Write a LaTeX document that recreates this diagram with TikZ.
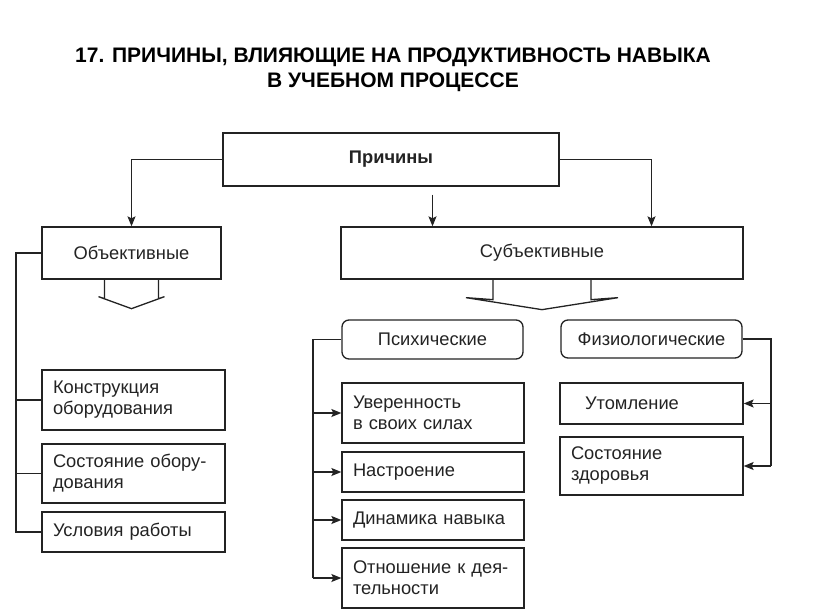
\documentclass[tikz,border=0pt]{standalone}
\usepackage{fontspec}
\setmainfont{Liberation Sans}
\usetikzlibrary{arrows.meta, calc}
\definecolor{ink}{RGB}{35,35,35}

\begin{document}
\begin{tikzpicture}[x=1pt, y=-1pt,
    cell/.style={draw=ink, line width=1.3pt, inner xsep=11pt, inner ysep=0pt, text=ink, font=\fontsize{18.3}{21}\selectfont},
    rcell/.style={cell, rounded corners=7pt},
    item/.style={cell, text width=#1, align=left},
    link/.style={draw=ink, line width=1.3pt},
    arr/.style={link, -{Stealth[length=10pt, width=8pt, inset=2pt]}},
    heading/.style={font=\fontsize{21}{25}\selectfont\bfseries, align=center, text=black}
]
    \useasboundingbox (0,0) rectangle (816,615);

    % Title
    \node[heading] (title) at (393,69.5) {17. ПРИЧИНЫ, ВЛИЯЮЩИЕ НА ПРОДУКТИВНОСТЬ НАВЫКА\\В УЧЕБНОМ ПРОЦЕССЕ};

    % Top level
    \node[cell, minimum width=336pt, minimum height=53pt, font=\fontsize{18.3}{21}\selectfont\bfseries] (causes) at (391,159.5) {Причины};
    \node[cell, minimum width=179pt, minimum height=52pt] (objective) at (131.5,253) {Объективные};
    \node[cell, minimum width=402pt, minimum height=52pt] (subjective) at (542,253) {Субъективные};

    % Objective causes
    \node[item=161pt, minimum height=60pt] (design) at (133.5,400) {Конструкция\\оборудования};
    \node[item=161pt, minimum height=59pt] (state) at (133.5,473.5) {Состояние обору-\\дования};
    \node[item=161pt, minimum height=40pt] (work) at (133.5,532) {Условия работы};

    % Subjective groups
    \node[rcell, minimum width=181pt, minimum height=39pt] (psych) at (432.5,339.5) {Психические};
    \node[rcell, minimum width=181pt, minimum height=38pt] (physio) at (651.5,339) {Физиологические};

    % Psychic causes
    \node[item=160pt, minimum height=60pt] (confid) at (433,413) {Уверенность\\в своих силах};
    \node[item=160pt, minimum height=40pt] (mood) at (433,472) {Настроение};
    \node[item=160pt, minimum height=40pt] (dynam) at (433,520) {Динамика навыка};
    \node[item=160pt, minimum height=60pt] (attit) at (433,578) {Отношение к дея-\\тельности};

    % Physiological causes
    \node[item=161pt, minimum height=41pt] (fatigue) at (651.5,403.5) {\hspace*{14pt}Утомление};
    \node[item=161pt, minimum height=58pt] (health) at (651.5,466) {Состояние\\здоровья};

    % Arrows from the top box
    \coordinate (midtop) at ($(causes.south -| psych)+(0,8)$);
    \draw[arr] (causes.west) -| (objective.north);
    \draw[arr] (causes.east) -| (physio |- subjective.north);
    \draw[arr] (midtop) -- (psych |- subjective.north);

    % Wide arrows under the two groups
    \draw[link] ($(objective.south)+(-27,0)$) -- ++(0,19) -- ++(-6,-2) -- ($(objective.south)+(0,29)$)
        -- ($(objective.south)+(33,17)$) -- ++(-6,2) -- ++(0,-19);
    \draw[link] ($(subjective.south)+(-49,0)$) -- ++(0,20) -- ++(-27,-2) -- ($(subjective.south)+(0,30)$)
        -- ($(subjective.south)+(76,18)$) -- ++(-27,2) -- ++(0,-20);

    % Objective bracket
    \coordinate (objL) at (16,253);
    \draw[link] (objective.west) -- (objL) |- (work.west);
    \draw[link] (objL |- design.west) -- (design.west);
    \draw[link] (objL |- state.west) -- (state.west);

    % Psychic bracket
    \coordinate (psyL) at (313,339.5);
    \draw[link] (psych.west) -- (psyL) -- (psyL |- attit.west);
    \foreach \n in {confid, mood, dynam, attit}
        \draw[arr] (psyL |- \n.west) -- (\n.west);

    % Physiological bracket
    \coordinate (phyR) at (771,339);
    \draw[link] (physio.east) -- (phyR) -- (phyR |- health.east);
    \foreach \n in {fatigue, health}
        \draw[arr] (phyR |- \n.east) -- (\n.east);
\end{tikzpicture}
\end{document}
